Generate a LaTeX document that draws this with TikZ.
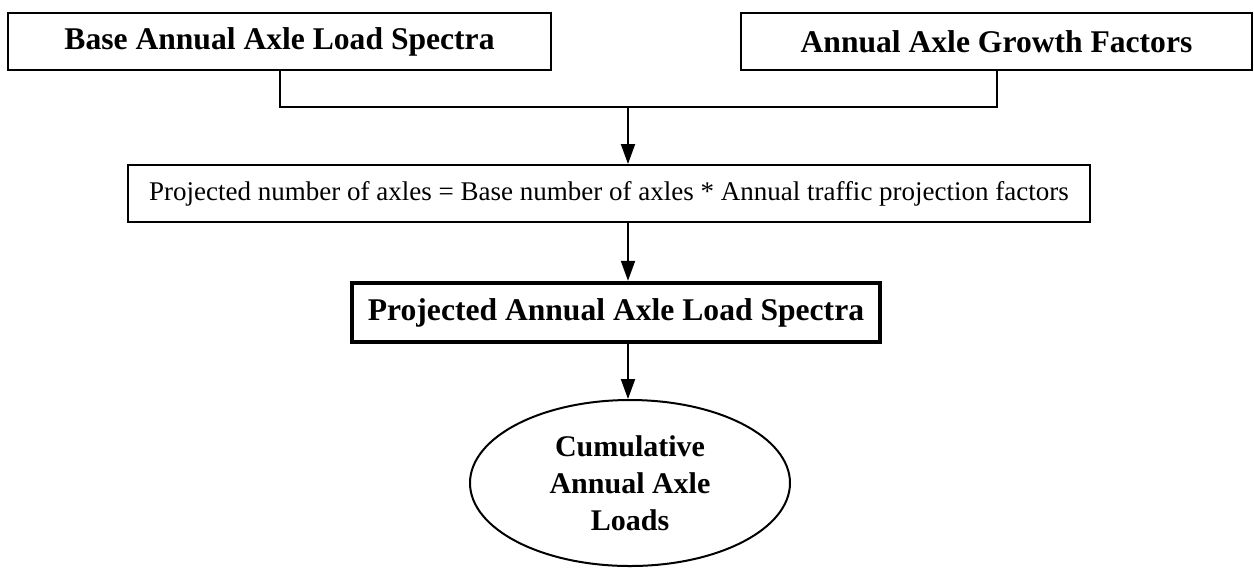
\documentclass[tikz,border=0pt]{standalone}
\usepackage{fontspec}
\setmainfont{Liberation Serif}
\usetikzlibrary{arrows.meta,shapes.geometric}
\tikzset{
  titlebox/.style={draw, line width=1pt, inner sep=0pt, minimum height=28.5pt,
    font=\fontsize{15.8}{18}\selectfont\bfseries},
  formulabox/.style={draw, line width=1pt, inner sep=0pt, minimum height=28.5pt,
    font=\fontsize{13.5}{16}\selectfont},
  thickbox/.style={draw, line width=2.2pt, inner sep=0pt, minimum height=29.5pt,
    font=\fontsize{15.8}{18}\selectfont\bfseries},
  endoval/.style={draw, ellipse, line width=1pt, inner sep=0pt, align=center,
    font=\fontsize{15}{18.5}\selectfont\bfseries},
  link/.style={line width=1pt},
  arr/.style={line width=1pt, -{Triangle[length=10pt,width=7pt]}}
}
\begin{document}
\begin{tikzpicture}[x=0.5pt,y=-0.5pt]
\useasboundingbox (0,0) rectangle (1254,570);
\node[titlebox, minimum width=271.5pt] (b1) at (279.5,41.5) {Base Annual Axle Load Spectra};
\node[titlebox, minimum width=255.5pt] (b2) at (996.5,41.5) {Annual Axle Growth Factors};
\coordinate (j) at (628,107);
\node[formulabox, minimum width=481pt] (b3) at (609,193.5) {Projected number of axles = Base number of axles * Annual traffic projection factors};
\node[thickbox, minimum width=264pt] (b4) at (616,312.5) {Projected Annual Axle Load Spectra};
\node[endoval, minimum width=160pt, minimum height=83pt] (e) at (630,483) {Cumulative\\Annual Axle\\Loads};
\draw[link] (b1.south) |- (j) -| (b2.south);
\draw[arr] (j) -- (j |- b3.north);
\draw[arr] (b3.south -| j) -- (b4.north -| j);
\draw[arr] (b4.south -| j) -- (e.north -| j);
\end{tikzpicture}
\end{document}
